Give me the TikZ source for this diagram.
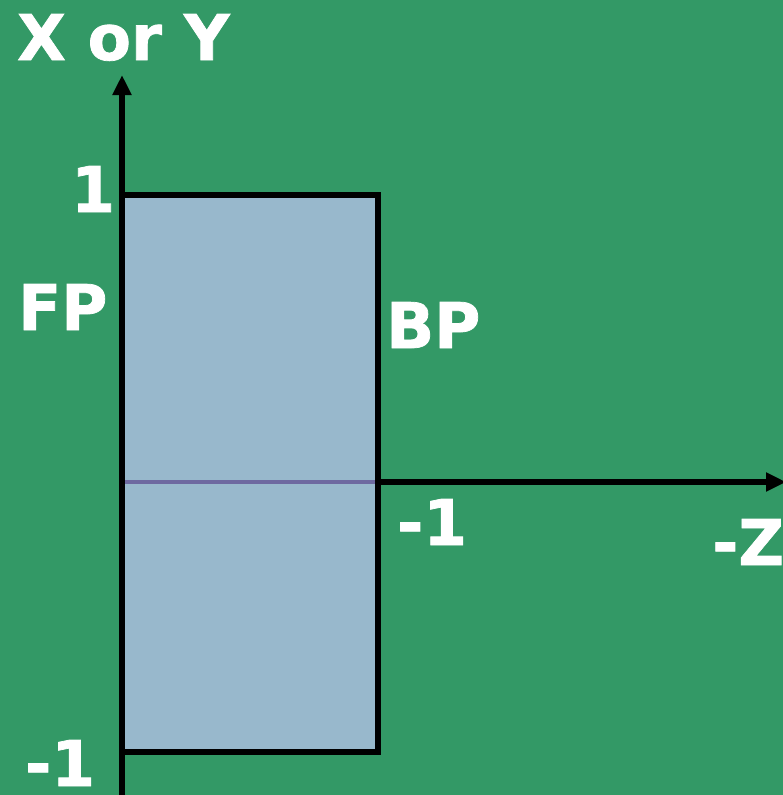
\documentclass[tikz,border=0pt]{standalone}
\usepackage{fontspec}
\setmainfont{DejaVu Sans}[BoldFeatures={FakeBold=1.2}]
\usetikzlibrary{arrows.meta}
\definecolor{bggreen}{RGB}{51,153,102}
\definecolor{boxfill}{RGB}{152,184,204}
\definecolor{midline}{RGB}{110,105,160}
\tikzset{
  lbl/.style={anchor=base west, inner sep=0pt, text=white, font=\bfseries\fontsize{63}{63}\selectfont},
  axis/.style={line width=6pt, -{Triangle[length=20pt,width=18pt]}},
}
\begin{document}
\begin{tikzpicture}[x=1pt,y=-1pt]
\fill[bggreen] (0,0) rectangle (783,795);
\useasboundingbox (0,0) rectangle (783,795);
\coordinate (box1) at (122,195);
\coordinate (box2) at (378,752);
\fill[boxfill] (box1) rectangle (box2);
\coordinate (ml) at (124,482);
\coordinate (mr) at (376,482);
\draw[midline, line width=4pt] (ml) -- (mr);
\draw[line width=6pt] (box1) rectangle (box2);
\coordinate (yb) at (122,800);
\coordinate (yt) at (122,75);
\draw[axis] (yb) -- (yt);
\coordinate (zs) at (378,482);
\coordinate (ze) at (786,482);
\draw[axis] (zs) -- (ze);
\node[lbl] (xy) at (17,60) {X or Y};
\node[lbl] (one) at (71,212) {1};
\node[lbl] (fp) at (18,330) {FP};
\node[lbl] (bp) at (386,348) {BP};
\node[lbl] (m1) at (397,545) {-1};
\node[lbl] (mz) at (712,565) {-Z};
\node[lbl] (m1b) at (25,786) {-1};
\end{tikzpicture}
\end{document}
